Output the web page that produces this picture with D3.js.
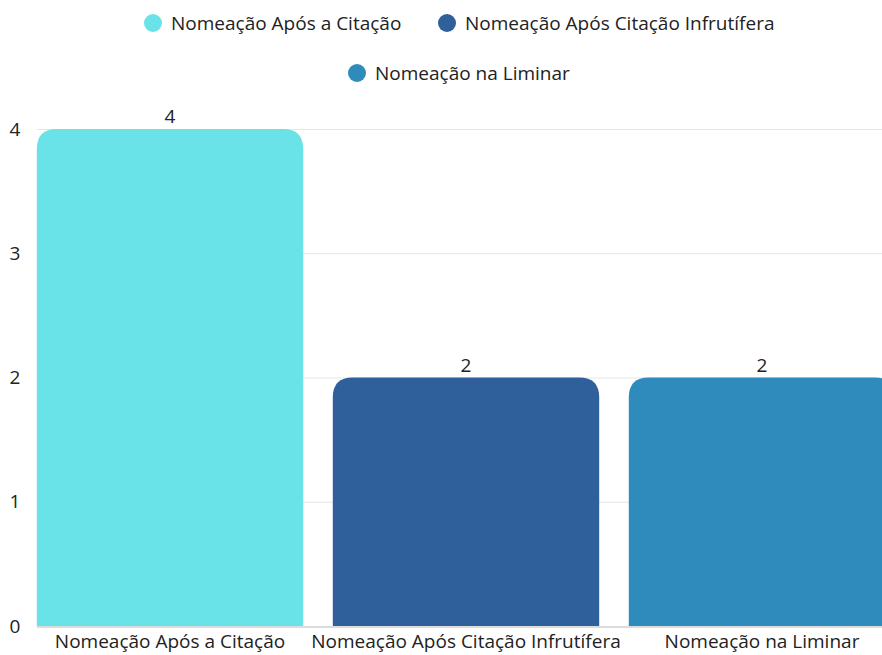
<!DOCTYPE html>
<meta charset="utf-8">
<style>
    body {
        margin: 0;
        background-color: #ffffff;
        font-family: "Open Sans", sans-serif;
    }

    .grid line {
        stroke: #e6e6e6;
        stroke-width: 1px;
    }

    .tick-label {
        font-size: 19px;
        fill: #222;
    }
</style>

<body>
    <script src="https://d3js.org/d3.v7.min.js"></script>

    <script>
        var width = 882,
            height = 655;

        // data
        const categories = ["Nomeação Após a Citação", "Nomeação Após Citação Infrutífera", "Nomeação na Liminar"];
        const values = [4, 2, 2];
        const colors = ["#6ae3e8", "#30609b", "#2e8bbb"];
        const yTicks = [0, 1, 2, 3, 4];

        var margin = { top: 129, bottom: 29, left: 22 };

        var svg = d3.select("body").append("svg")
            .attr("width", width)
            .attr("height", height)

        var x = d3.scaleBand()
            .domain(categories)
            .range([margin.left, margin.left + 3 * 296])
            .paddingInner(0.1)
            .paddingOuter(0.05)

        var y = d3.scaleLinear()
            .domain([0, 4])
            .range([height - margin.bottom, margin.top])

        // gridlines
        var grid = svg.append("g").attr("class", "grid")
        grid.selectAll("line")
            .data(yTicks.filter(d => d > 0))
            .enter().append("line")
            .attr("x1", 37)
            .attr("x2", width)
            .attr("y1", d => y(d) + 0.5)
            .attr("y2", d => y(d) + 0.5)

        // y labels
        svg.append("g").selectAll("text")
            .data(yTicks)
            .enter().append("text")
            .attr("class", "tick-label")
            .attr("x", 15)
            .attr("y", d => y(d))
            .attr("dy", "0.35em")
            .attr("text-anchor", "middle")
            .text(d => d)

        // bars with rounded top corners
        var r = 20;
        function barPath(d, i) {
            var x0 = x(categories[i]),
                x1 = x0 + x.bandwidth(),
                y0 = y(0),
                y1 = y(d);
            return "M" + x0 + "," + y0 +
                "V" + (y1 + r) +
                "Q" + x0 + "," + y1 + " " + (x0 + r) + "," + y1 +
                "H" + (x1 - r) +
                "Q" + x1 + "," + y1 + " " + x1 + "," + (y1 + r) +
                "V" + y0 + "Z";
        }

        svg.append("g").selectAll("path")
            .data(values)
            .enter().append("path")
            .attr("d", barPath)
            .attr("fill", (d, i) => colors[i])

        // baseline
        svg.append("line")
            .attr("x1", 37)
            .attr("x2", width)
            .attr("y1", y(0) + 1)
            .attr("y2", y(0) + 1)
            .attr("stroke", "#dcdcdc")
            .attr("stroke-width", 2)

        // value labels
        svg.append("g").selectAll("text")
            .data(values)
            .enter().append("text")
            .attr("class", "tick-label")
            .attr("x", (d, i) => x(categories[i]) + x.bandwidth() / 2)
            .attr("y", d => y(d) - 6)
            .attr("text-anchor", "middle")
            .text(d => d)

        // x labels
        svg.append("g").selectAll("text")
            .data(categories)
            .enter().append("text")
            .attr("class", "tick-label")
            .attr("x", d => x(d) + x.bandwidth() / 2)
            .attr("y", y(0) + 22)
            .attr("text-anchor", "middle")
            .text(d => d)

        // legend
        var legendPos = [[153, 23], [447, 23], [357, 73]];
        var legend = svg.append("g").selectAll("g")
            .data(categories)
            .enter().append("g")
            .attr("transform", (d, i) => "translate(" + legendPos[i][0] + "," + legendPos[i][1] + ")")

        legend.append("circle")
            .attr("r", 9)
            .attr("fill", (d, i) => colors[i])

        legend.append("text")
            .attr("class", "tick-label")
            .attr("x", 18)
            .attr("dy", "0.35em")
            .text(d => d)
    </script>
</body>

</html>
